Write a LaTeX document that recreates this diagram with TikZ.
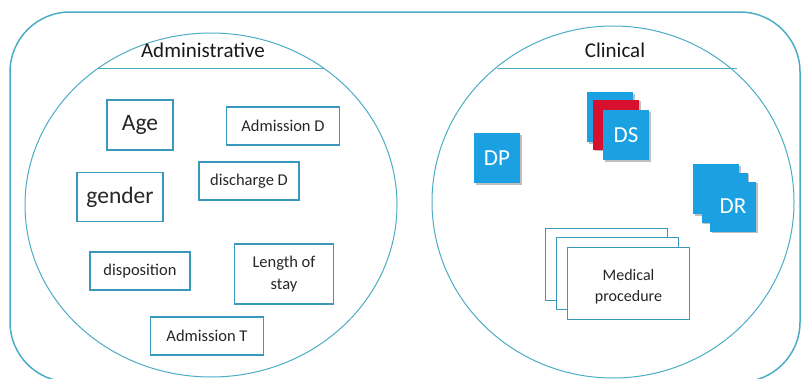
\documentclass[tikz,border=0pt]{standalone}
\usepackage{fontspec}
\setmainfont{Carlito}
\usetikzlibrary{positioning,shadows}
\definecolor{ringblue}{HTML}{4BACC6}
\definecolor{lineblue}{HTML}{3A98BC}
\definecolor{tileblue}{HTML}{1BA1E2}
\definecolor{tilered}{HTML}{D81030}

\begin{document}
\begin{tikzpicture}[x=1pt,y=-1pt,
    ring/.style={draw=ringblue,line width=1pt},
    head/.style={font=\fontsize{21}{24}\selectfont,text=black!90},
    attr/.style={draw=lineblue,line width=1.1pt,fill=white,align=center,inner sep=2pt,
                 font=\fontsize{16.5}{22}\selectfont,text=black!85},
    bigattr/.style={attr,font=\fontsize{23.5}{26}\selectfont},
    tile/.style={fill=tileblue,minimum width=46pt,minimum height=50pt,inner sep=0pt,
                 text=white,font=\fontsize{23}{26}\selectfont,
                 drop shadow={shadow xshift=1.5pt,shadow yshift=-1.5pt,fill=black,opacity=0.25}},
    sheet/.style={draw=lineblue,line width=1pt,fill=white,minimum width=122pt,minimum height=72pt,
                  inner sep=0pt},
    sheettext/.style={align=center,font=\fontsize{16}{21}\selectfont,text=black!85}]
    \useasboundingbox (0,0) rectangle (802,378);
    \draw[ring,line width=1.5pt,rounded corners=60pt] (10,12) rectangle (800,382);

    \draw[ring] (211,205) ellipse [x radius=186, y radius=172];
    \draw[ring] (98,68) -- (324,68);
    \node[head] (admin) at (203,50) {Administrative};

    \draw[ring] (613,202) ellipse [x radius=181, y radius=176];
    \draw[ring] (497,68) -- (737,68);
    \node[head] (clin) at (615,50) {Clinical};

    \node[bigattr,minimum width=66pt,minimum height=50pt] (age) at (140,125) {Age};
    \node[attr,minimum width=113pt,minimum height=38pt] (admd) at (283,126) {Admission D};
    \node[attr,minimum width=100pt,minimum height=38pt] (disd) at (249,181) {discharge D};
    \node[bigattr,minimum width=86pt,minimum height=49pt] (gender) at (120,197) {gender};
    \node[attr,minimum width=100pt,minimum height=38pt] (disp) at (140,271) {disposition};
    \node[attr,minimum width=99pt,minimum height=60pt] (los) at (284,274) {Length of\\stay};
    \node[attr,minimum width=113pt,minimum height=38pt] (admt) at (207,336) {Admission T};

    \node[tile] (dp) at (497,158) {DP};

    \node[tile] (ds3) at (610,117) {};
    \node[tile,fill=tilered] (ds2) at (616,124.5) {};
    \node[tile] (ds) at (626,135) {DS};

    \node[tile] (dr3) at (716,189) {};
    \node[tile] (dr2) at (724.5,197.5) {};
    \node[tile] (dr) at (733,206.5) {DR};

    \node[sheet] (mp3) at (606,264) {};
    \node[sheet] (mp2) at (617,273.5) {};
    \node[sheet,label={[sheettext,yshift=-3pt]center:{Medical\\procedure}}] (mp) at (628.5,283.5) {};
\end{tikzpicture}
\end{document}
